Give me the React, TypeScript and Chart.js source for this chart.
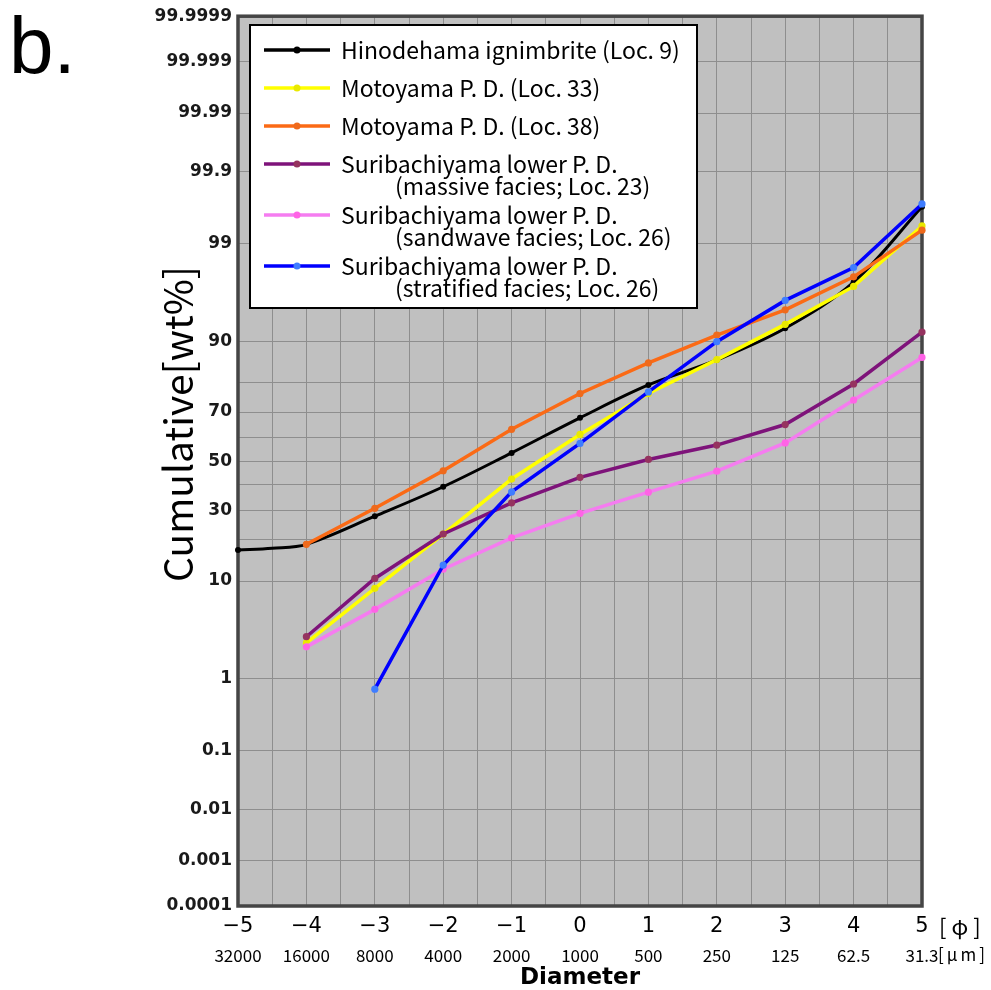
import React, { useEffect, useRef } from 'react';
import { Chart, Scale, registerables } from 'chart.js';

Chart.register(...registerables);

// ---------------- data ----------------
const PHI_LABELS = ['−5', '−4', '−3', '−2', '−1', '0', '1', '2', '3', '4', '5'];
const MICRON_LABELS = ['32000', '16000', '8000', '4000', '2000', '1000', '500', '250', '125', '62.5', '31.3'];
const Y_GRID = [0.0001, 0.001, 0.01, 0.1, 1, 10, 20, 30, 40, 50, 60, 70, 80, 90, 99, 99.9, 99.99, 99.999, 99.9999];
const Y_LABELS = [0.0001, 0.001, 0.01, 0.1, 1, 10, 30, 50, 70, 90, 99, 99.9, 99.99, 99.999, 99.9999];

const hinodehamaPhi = [-5, -4.5, -4, -3, -2, -1, 0, 1, 2, 3, 4, 5];
const hinodehama = [17.1, 17.6, 18.7, 27.8, 39.2, 53.5, 67.8, 79.2, 86.0, 92.2, 97.2, 99.67];
const commonPhi = [-4, -3, -2, -1, 0, 1, 2, 3, 4, 5];
const motoyama33 = [2.6, 8.7, 21.8, 42.4, 61.2, 76.5, 86.1, 92.8, 96.9, 99.4];
const motoyama38 = [18.7, 30.7, 45.9, 63.3, 76.5, 85.3, 91.1, 94.7, 97.55, 99.32];
const suriMassive = [3.03, 10.5, 21.8, 32.8, 43.1, 50.7, 56.8, 65.2, 79.5, 91.6];
const suriSandwave = [2.36, 5.66, 12.4, 20.6, 28.8, 37.0, 45.7, 57.7, 74.3, 86.6];
const stratifiedPhi = [-3, -2, -1, 0, 1, 2, 3, 4, 5];
const suriStratified = [0.74, 13.3, 37.1, 57.5, 77.0, 89.9, 95.7, 98.07, 99.7];

const LEGEND_LABELS = [
  ['Hinodehama ignimbrite (Loc. 9)'],
  ['Motoyama P. D. (Loc. 33)'],
  ['Motoyama P. D. (Loc. 38)'],
  ['Suribachiyama lower P. D.', '(massive facies; Loc. 23)'],
  ['Suribachiyama lower P. D.', '(sandwave facies; Loc. 26)'],
  ['Suribachiyama lower P. D.', '(stratified facies; Loc. 26)'],
];

const LINE_COLORS = ['#000000', '#ffff00', '#fb6a15', '#7e137a', '#f57cf0', '#0000ff'];
const MARKER_COLORS = ['#000000', '#e9e900', '#ef6a1c', '#95335f', '#ff63e6', '#3f7dff'];

// ---------------- probability (probit) scale ----------------
function normInv(p: number): number {
  const a = [-3.969683028665376e1, 2.209460984245205e2, -2.759285104469687e2, 1.38357751867269e2, -3.066479806614716e1, 2.506628277459239];
  const b = [-5.447609879822406e1, 1.615858368580409e2, -1.556989798598866e2, 6.680131188771972e1, -1.328068155288572e1];
  const c = [-7.784894002430293e-3, -3.223964580411365e-1, -2.400758277161838, -2.549732539343734, 4.374664141464968, 2.938163982698783];
  const d = [7.784695709041462e-3, 3.224671290700398e-1, 2.445134137142996, 3.754408661907416];
  const pl = 0.02425;
  if (p < pl) {
    const q = Math.sqrt(-2 * Math.log(p));
    return (((((c[0] * q + c[1]) * q + c[2]) * q + c[3]) * q + c[4]) * q + c[5]) / ((((d[0] * q + d[1]) * q + d[2]) * q + d[3]) * q + 1);
  }
  if (p <= 1 - pl) {
    const q = p - 0.5;
    const r = q * q;
    return ((((((a[0] * r + a[1]) * r + a[2]) * r + a[3]) * r + a[4]) * r + a[5]) * q) / (((((b[0] * r + b[1]) * r + b[2]) * r + b[3]) * r + b[4]) * r + 1);
  }
  const q = Math.sqrt(-2 * Math.log(1 - p));
  return -(((((c[0] * q + c[1]) * q + c[2]) * q + c[3]) * q + c[4]) * q + c[5]) / ((((d[0] * q + d[1]) * q + d[2]) * q + d[3]) * q + 1);
}

function normCdf(z: number): number {
  const t = 1 / (1 + 0.3275911 * Math.abs(z) / Math.SQRT2);
  const y = 1 - (((((1.061405429 * t - 1.453152027) * t) + 1.421413741) * t - 0.284496736) * t + 0.254829592) * t * Math.exp(-(z * z) / 2);
  return z >= 0 ? 0.5 * (1 + y) : 0.5 * (1 - y);
}

class ProbitScale extends (Scale as any) {
  static id = 'probit';
  static defaults = {};
  parse(raw: any) {
    return typeof raw === 'number' && isFinite(raw) ? raw : null;
  }
  determineDataLimits() {
    this.min = this.options.min;
    this.max = this.options.max;
  }
  buildTicks() {
    return Y_GRID.map((v) => ({ value: v }));
  }
  configure() {
    super.configure();
    const zs = normInv(this.min / 100);
    const ze = normInv(this.max / 100);
    this._zStart = zs;
    this._zRange = ze - zs;
  }
  getLabelForValue(v: number) {
    return String(v);
  }
  getPixelForValue(v: number) {
    if (v === null || v === undefined || isNaN(v)) return NaN;
    return this.getPixelForDecimal((normInv(v / 100) - this._zStart) / this._zRange);
  }
  getValueForPixel(px: number) {
    const dec = this.getDecimalForPixel(px);
    return normCdf(this._zStart + dec * this._zRange) * 100;
  }
}
Chart.register(ProbitScale as any);

// ---------------- decorations ----------------
const decorPlugin = {
  id: 'decor',
  beforeDraw(chart: any) {
    const { ctx, chartArea: a } = chart;
    ctx.save();
    ctx.fillStyle = '#c0c0c0';
    ctx.fillRect(a.left, a.top, a.right - a.left, a.bottom - a.top);
    ctx.restore();
  },
  beforeDatasetsDraw(chart: any) {
    const { ctx, chartArea: a } = chart;
    ctx.save();
    ctx.strokeStyle = '#454545';
    ctx.lineWidth = 3.5;
    ctx.strokeRect(a.left, a.top, a.right - a.left, a.bottom - a.top);
    ctx.restore();
  },
  afterDraw(chart: any) {
    const { ctx, chartArea: a } = chart;
    ctx.save();
    // panel letter
    ctx.fillStyle = '#000';
    ctx.font = '80px "Liberation Sans", Arial, sans-serif';
    ctx.textBaseline = 'alphabetic';
    ctx.textAlign = 'left';
    ctx.fillText('b.', 9, 73);

    // y title
    ctx.save();
    ctx.translate(178, 424);
    ctx.rotate(-Math.PI / 2);
    ctx.font = '39px "Noto Sans CJK JP", "Noto Sans", sans-serif';
    ctx.textAlign = 'center';
    ctx.textBaseline = 'middle';
    ctx.fillText('Cumulative[wt%]', 0, 0);
    ctx.restore();

    // units
    const xs = chart.scales.x;
    const x2 = chart.scales.x2;
    ctx.textAlign = 'left';
    ctx.textBaseline = 'middle';
    ctx.font = '22px "Noto Sans CJK JP", sans-serif';
    (ctx as any).letterSpacing = '5px';
    ctx.fillText('[φ]', a.right + 17, xs.top + 21);
    ctx.font = '17px "Noto Sans CJK JP", sans-serif';
    (ctx as any).letterSpacing = '3px';
    ctx.fillText('[μm]', a.right + 16, x2.top + 11);
    (ctx as any).letterSpacing = '0px';

    // legend
    const L = { x: 250, y: 25, w: 447, h: 283 };
    ctx.fillStyle = '#ffffff';
    ctx.fillRect(L.x, L.y, L.w, L.h);
    ctx.strokeStyle = '#000';
    ctx.lineWidth = 2;
    ctx.strokeRect(L.x, L.y, L.w, L.h);
    let y = 50;
    chart.data.datasets.forEach((ds: any, i: number) => {
      const lines = LEGEND_LABELS[i];
      ctx.strokeStyle = ds.borderColor;
      ctx.lineWidth = 3.5;
      ctx.beginPath();
      ctx.moveTo(264, y);
      ctx.lineTo(330, y);
      ctx.stroke();
      ctx.fillStyle = ds.pointBackgroundColor;
      ctx.beginPath();
      ctx.arc(297, y, 3.5, 0, Math.PI * 2);
      ctx.fill();
      ctx.fillStyle = '#000';
      ctx.font = '23px "Noto Sans CJK JP", "Noto Sans", sans-serif';
      ctx.textAlign = 'left';
      ctx.textBaseline = 'middle';
      ctx.fillText(lines[0], 341, y);
      if (lines[1]) ctx.fillText(lines[1], 395, y + 22);
      y += lines.length > 1 ? 51 : 38;
    });
    ctx.restore();
  },
};

function series(label: string[], phi: number[], vals: number[], i: number, extra: any = {}) {
  return {
    label: label.join(' '),
    data: phi.map((x, k) => ({ x, y: vals[k] })),
    borderColor: LINE_COLORS[i],
    backgroundColor: MARKER_COLORS[i],
    pointBackgroundColor: MARKER_COLORS[i],
    pointBorderWidth: 0,
    pointRadius: (ctx: any) => (ctx.raw && Number.isInteger(ctx.raw.x) ? 3.6 : 0),
    borderWidth: 3.5,
    tension: 0,
    clip: false,
    order: 10 - i,
    ...extra,
  };
}

export default function App() {
  const ref = useRef<HTMLCanvasElement>(null);
  useEffect(() => {
    const datasets = [
      series(LEGEND_LABELS[0], hinodehamaPhi, hinodehama, 0, { tension: 0.35, borderWidth: 3, pointRadius: (c: any) => (c.raw && Number.isInteger(c.raw.x) ? 3 : 0) }),
      series(LEGEND_LABELS[1], commonPhi, motoyama33, 1),
      series(LEGEND_LABELS[2], commonPhi, motoyama38, 2),
      series(LEGEND_LABELS[3], commonPhi, suriMassive, 3),
      series(LEGEND_LABELS[4], commonPhi, suriSandwave, 4),
      series(LEGEND_LABELS[5], stratifiedPhi, suriStratified, 5),
    ];
    const chart = new Chart(ref.current as HTMLCanvasElement, {
      type: 'line',
      data: { datasets },
      plugins: [decorPlugin],
      options: {
        animation: false,
        responsive: true,
        maintainAspectRatio: false,
        layout: { padding: { left: 150, right: 69, top: 16, bottom: 0 } },
        plugins: { legend: { display: false }, tooltip: { enabled: false } },
        scales: {
          x: {
            type: 'linear',
            position: 'bottom',
            weight: 0,
            min: -5,
            max: 5,
            grid: { color: '#8e8e8e', lineWidth: 1, drawTicks: false },
            border: { display: false },
            ticks: {
              stepSize: 0.5,
              autoSkip: false,
              maxRotation: 0,
              padding: 8,
              color: '#000',
              font: { family: '"DejaVu Sans", sans-serif', size: 21 },
              callback: (v: any) => (Number.isInteger(v) ? PHI_LABELS[v + 5] : ''),
            },
            afterFit: (s: any) => { s.height = 38; },
          },
          x2: {
            type: 'linear',
            position: 'bottom',
            weight: 1,
            min: -5,
            max: 5,
            grid: { display: false, drawTicks: false },
            border: { display: false },
            ticks: {
              stepSize: 1,
              autoSkip: false,
              maxRotation: 0,
              padding: 1,
              color: '#000',
              font: { family: '"Noto Sans CJK JP", sans-serif', size: 17 },
              callback: (v: any) => (Number.isInteger(v) ? MICRON_LABELS[v + 5] : ''),
            },
            title: {
              display: true,
              text: 'Diameter',
              color: '#000',
              font: { family: '"DejaVu Sans", sans-serif', size: 23, weight: 'bold', lineHeight: 1 },
              padding: { top: 0, bottom: 0 },
            },
            afterFit: (s: any) => { s.height = 46; },
          },
          y: {
            type: 'probit' as any,
            position: 'left',
            min: 0.0001,
            max: 99.9999,
            grid: { color: '#8e8e8e', lineWidth: 1, drawTicks: false },
            border: { display: false },
            ticks: {
              autoSkip: false,
              padding: 6,
              color: '#1a1a1a',
              font: { family: '"DejaVu Sans", sans-serif', size: 17, weight: 'bold' },
              callback: (v: any) => (Y_LABELS.includes(v) ? String(v) : ''),
            },
            afterFit: (s: any) => { s.width = 88; },
          },
        },
      } as any,
    });
    return () => chart.destroy();
  }, []);
  return (
    <div style={{ position: 'absolute', left: 0, top: 0, width: 991, height: 990, background: '#fff' }}>
      <canvas ref={ref} />
    </div>
  );
}
